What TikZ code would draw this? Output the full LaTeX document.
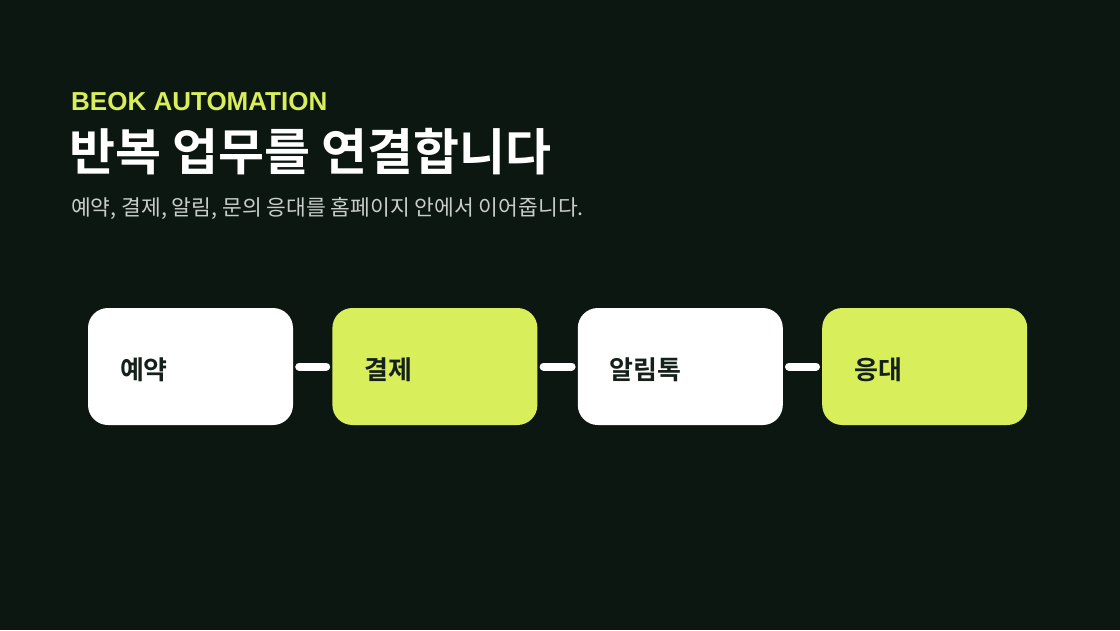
\documentclass[tikz,border=0pt]{standalone}
\usepackage{fontspec}
\setmainfont{Liberation Sans}
\newfontfamily\krfont{Noto Sans CJK KR}
\newfontfamily\krbold{Noto Sans CJK KR Bold}
\usetikzlibrary{positioning}
\definecolor{bgdark}{HTML}{0C1712}
\definecolor{lime}{HTML}{D8EE5A}
\definecolor{subgray}{HTML}{C9CEC9}
\definecolor{inkdark}{HTML}{15201A}

\begin{document}
\begin{tikzpicture}[x=1pt,y=-1pt,
    stepbox/.style={rounded corners=20pt,minimum width=205pt,minimum height=117pt,
        text width=141pt,inner xsep=32pt,align=left,text=inkdark,
        text height=26pt,text depth=0pt,
        font=\krbold\fontsize{26}{30}\selectfont},
    whitebox/.style={stepbox,fill=white},
    limebox/.style={stepbox,fill=lime},
    link/.style={line width=8pt,white,line cap=round,shorten >=6pt,shorten <=6pt}]
    \fill[bgdark] (0,0) rectangle (1120,630);
    \useasboundingbox (0,0) rectangle (1120,630);
    % heading
    \node[anchor=base west,inner sep=0,text=lime,font=\bfseries\fontsize{26}{30}\selectfont] (kicker) at (71,110) {BEOK AUTOMATION};
    \node[anchor=base west,inner sep=0,text=white,font=\krbold\fontsize{50}{56}\selectfont] (title) at (69,170) {반복 업무를 연결합니다};
    \node[anchor=base west,inner sep=0,text=subgray,font=\krfont\fontsize{21.5}{25}\selectfont] (sub) at (71,215) {예약, 결제, 알림, 문의 응대를 홈페이지 안에서 이어줍니다.};
    % steps
    \node[whitebox] (s1) at (190.5,366.5) {예약};
    \node[limebox,right=39pt of s1] (s2) {결제};
    \node[whitebox,right=40pt of s2] (s3) {알림톡};
    \node[limebox,right=39pt of s3] (s4) {응대};
    \draw[link] (s1) -- (s2);
    \draw[link] (s2) -- (s3);
    \draw[link] (s3) -- (s4);
\end{tikzpicture}
\end{document}
